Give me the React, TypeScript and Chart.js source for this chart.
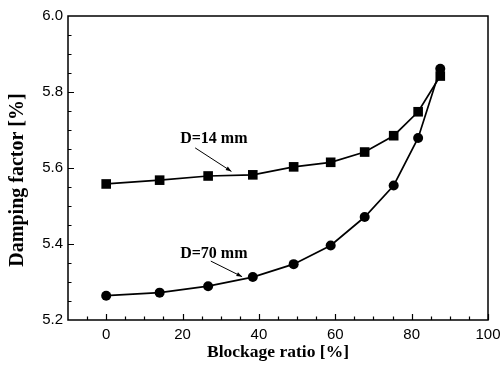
import { useEffect, useRef } from "react";
import { Chart, registerables } from "chart.js";

Chart.register(...registerables);

// Blockage ratio [%] for each measurement
const blockage = [0, 14, 26.7, 38.4, 49.1, 58.8, 67.7, 75.3, 81.7, 87.5];
// Damping factor [%] for the two diameters
const damping14 = [5.558, 5.568, 5.579, 5.582, 5.603, 5.615, 5.642, 5.685, 5.748, 5.842];
const damping70 = [5.264, 5.272, 5.289, 5.313, 5.347, 5.396, 5.471, 5.554, 5.679, 5.861];

const xTicks = [0, 20, 40, 60, 80, 100];
const yTicks = [5.2, 5.4, 5.6, 5.8, 6.0];

const yTitle = "Damping factor [%]";

// Callout labels: text anchor and arrow (in data units)
const callouts = [
  { text: "D=14 mm", at: [28.2, 5.676], from: [23.3, 5.653], to: [32.8, 5.591] },
  { text: "D=70 mm", at: [28.2, 5.374], from: [27.4, 5.355], to: [35.6, 5.314] },
];

const serif = "'Liberation Serif', 'Times New Roman', serif";
const sans = "'Liberation Sans', Arial, sans-serif";

const framePlugin = {
  id: "frame",
  afterDatasetsDraw(chart: any) {
    const { ctx, chartArea: a, scales } = chart;
    const xs = scales.x;
    const ys = scales.y;
    ctx.save();
    ctx.strokeStyle = "#000";
    ctx.lineWidth = 1.5;
    ctx.strokeRect(a.left, a.top, a.right - a.left, a.bottom - a.top);

    // inward ticks: major + minor
    ctx.lineWidth = 1.2;
    ctx.beginPath();
    for (let v = -5; v <= 100; v += 5) {
      const px = Math.round(xs.getPixelForValue(v)) + 0.5;
      const len = v % 20 === 0 ? 6 : 3.5;
      ctx.moveTo(px, a.bottom);
      ctx.lineTo(px, a.bottom - len);
    }
    for (let i = 1; i < 16; i++) {
      const v = 5.2 + i * 0.05;
      const py = Math.round(ys.getPixelForValue(v)) + 0.5;
      const len = i % 4 === 0 ? 6 : 3.5;
      ctx.moveTo(a.left, py);
      ctx.lineTo(a.left + len, py);
    }
    ctx.stroke();

    // y-axis title
    ctx.fillStyle = "#000";
    ctx.save();
    ctx.translate(18, (a.top + a.bottom) / 2 + 12);
    ctx.rotate(-Math.PI / 2);
    ctx.font = `bold 20px ${serif}`;
    ctx.textAlign = "center";
    ctx.textBaseline = "middle";
    ctx.fillText(yTitle, 0, 0);
    ctx.restore();

    // callouts
    ctx.font = `bold 16px ${serif}`;
    ctx.textAlign = "center";
    ctx.textBaseline = "middle";
    ctx.lineWidth = 1;
    for (const c of callouts) {
      ctx.fillText(c.text, xs.getPixelForValue(c.at[0]), ys.getPixelForValue(c.at[1]));
      const x1 = xs.getPixelForValue(c.from[0]);
      const y1 = ys.getPixelForValue(c.from[1]);
      const x2 = xs.getPixelForValue(c.to[0]);
      const y2 = ys.getPixelForValue(c.to[1]);
      ctx.beginPath();
      ctx.moveTo(x1, y1);
      ctx.lineTo(x2, y2);
      ctx.stroke();
      const ang = Math.atan2(y2 - y1, x2 - x1);
      const hl = 6;
      ctx.beginPath();
      ctx.moveTo(x2, y2);
      ctx.lineTo(x2 - hl * Math.cos(ang - 0.35), y2 - hl * Math.sin(ang - 0.35));
      ctx.lineTo(x2 - hl * Math.cos(ang + 0.35), y2 - hl * Math.sin(ang + 0.35));
      ctx.closePath();
      ctx.fill();
    }
    ctx.restore();
  },
};

export default function App() {
  const ref = useRef<HTMLCanvasElement>(null);

  useEffect(() => {
    if (!ref.current) return;
    const chart = new Chart(ref.current, {
      type: "line",
      data: {
        datasets: [
          {
            label: "D=14 mm",
            data: blockage.map((x, i) => ({ x, y: damping14[i] })),
            borderColor: "#000",
            backgroundColor: "#000",
            borderWidth: 1.7,
            pointStyle: "rect",
            pointRadius: 6.8,
            pointBorderWidth: 0,
            tension: 0,
          },
          {
            label: "D=70 mm",
            data: blockage.map((x, i) => ({ x, y: damping70[i] })),
            borderColor: "#000",
            backgroundColor: "#000",
            borderWidth: 1.7,
            pointStyle: "circle",
            pointRadius: 5,
            pointBorderWidth: 0,
            tension: 0,
          },
        ],
      },
      options: {
        animation: false,
        responsive: false,
        layout: { padding: { top: 16, right: 12, left: 0, bottom: 0 } },
        plugins: { legend: { display: false }, tooltip: { enabled: false } },
        scales: {
          x: {
            type: "linear",
            min: -10,
            max: 100,
            afterBuildTicks: (s: any) => {
              s.ticks = xTicks.map((value) => ({ value }));
            },
            afterFit: (s: any) => {
              s.height = 51;
              s.paddingLeft = 0;
              s.paddingRight = 0;
            },
            grid: { display: false, drawTicks: false },
            border: { display: false },
            ticks: {
              color: "#000",
              padding: 6,
              font: { family: sans, size: 15 },
              maxRotation: 0,
            },
            title: {
              display: true,
              text: "Blockage ratio [%]",
              color: "#000",
              font: { family: serif, size: 17.5, weight: "bold" },
              padding: { top: 0, bottom: 8 },
            },
          },
          y: {
            type: "linear",
            min: 5.2,
            max: 6.0,
            afterBuildTicks: (s: any) => {
              s.ticks = yTicks.map((value) => ({ value }));
            },
            afterFit: (s: any) => {
              s.width = 68;
              s.paddingTop = 0;
              s.paddingBottom = 0;
            },
            grid: { display: false, drawTicks: false },
            border: { display: false },
            ticks: {
              color: "#000",
              padding: 5,
              font: { family: sans, size: 15 },
              callback: (v: any) => Number(v).toFixed(1),
            },
          },
        },
      },
      plugins: [framePlugin],
    });
    return () => chart.destroy();
  }, []);

  return (
    <div style={{ position: "fixed", left: 0, top: 0, width: 500, height: 371, background: "#fff" }}>
      <canvas ref={ref} width={500} height={371} style={{ display: "block" }} />
    </div>
  );
}
